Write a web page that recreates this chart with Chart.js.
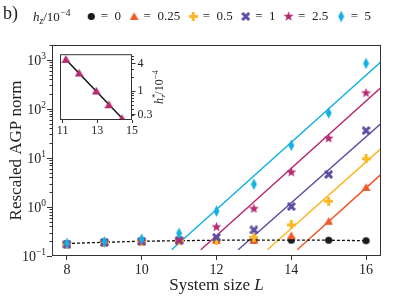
<!DOCTYPE html>
<html>
<head>
<meta charset="utf-8">
<script src="https://cdn.jsdelivr.net/npm/chart.js@4.4.0/dist/chart.umd.min.js"></script>
<style>
  html, body { margin: 0; padding: 0; background: #fff; }
  #wrap { position: relative; width: 399px; height: 299px; }
  #main { position: absolute; left: 0; top: 0; }
  #inset { position: absolute; left: 50px; top: 45px; }
</style>
</head>
<body>
<div id="wrap">
  <canvas id="main" width="399" height="299"></canvas>
  <canvas id="inset" width="115" height="95"></canvas>
</div>
<script>
// data
const sizes = [8, 9, 10, 11, 12, 13, 14, 15, 16];
const hzValues = ['0', '0.25', '0.5', '1', '2.5', '5'];
const normH0   = [0.18, 0.19, 0.20, 0.205, 0.21, 0.21, 0.21, 0.21, 0.205];
const normH025 = [0.175, 0.19, 0.20, 0.205, 0.21, 0.21, 0.26, 0.51, 2.5];
const normH05  = [0.175, 0.19, 0.20, 0.205, 0.21, 0.24, 0.43, 1.31, 9.6];
const normH1   = [0.175, 0.19, 0.20, 0.21, 0.24, 0.34, 1.02, 4.6, 36];
const normH25  = [0.175, 0.19, 0.20, 0.21, 0.39, 0.92, 5.1, 25, 210];
const normH5   = [0.18, 0.195, 0.22, 0.29, 0.82, 2.9, 18, 82, 840];

// fitted growth lines for h_z > 0 (start / end points)
const fitFromL = [14.16, 13.36, 12.58, 11.58, 10.80];
const fitFromY = [0.134, 0.134, 0.134, 0.134, 0.134];
const fitToL   = [16.4, 16.4, 16.4, 16.4, 16.4];
const fitToY   = [4.6, 15.4, 50, 272, 910];

// inset: crossover size L* against h_z*
const crossL = [11.19, 11.95, 12.94, 13.67, 14.42];
const crossH = [5, 2.5, 1, 0.5, 0.25];
const crossFitL = [11.12, 14.55];
const crossFitH = [5.3, 0.225];

const xTicks = [8, 10, 12, 14, 16];
const yPowers = [-1, 0, 1, 2, 3];
const insetXTicks = [11, 13, 15];
const insetYTicks = [0.3, 1, 4];

const FAM = '"Liberation Serif", "DejaVu Serif", serif';
const INK = '#222';
const colors = ['#1a1a1a', '#f05a28', '#fdb827', '#5b4ea1', '#b72a71', '#15b0e2'];
const shapes = ['circle', 'triangle', 'plus', 'x', 'star', 'diamond'];

function marker(shape, color) {
  const w = shape === 'diamond' ? 7 : (shape === 'star' ? 11 : 9);
  const h = shape === 'diamond' ? 12 : w;
  const c = document.createElement('canvas');
  c.width = w; c.height = h;
  const g = c.getContext('2d');
  const m = w / 2;
  g.fillStyle = color;
  g.translate(w / 2, h / 2);
  g.beginPath();
  if (shape === 'circle') {
    g.arc(0, 0, 3.6, 0, Math.PI * 2);
  } else if (shape === 'triangle') {
    g.moveTo(0, -4.3); g.lineTo(4.4, 3.6); g.lineTo(-4.4, 3.6); g.closePath();
  } else if (shape === 'plus' || shape === 'x') {
    if (shape === 'x') g.rotate(Math.PI / 4);
    const t = 1.5, r = shape === 'x' ? 5 : 4.4;
    g.rect(-t, -r, 2 * t, 2 * r);
    g.rect(-r, -t, 2 * r, 2 * t);
  } else if (shape === 'star') {
    for (let k = 0; k < 10; k++) {
      const rr = k % 2 ? 2.2 : 5.3;
      const a = -Math.PI / 2 + k * Math.PI / 5;
      g.lineTo(rr * Math.cos(a), rr * Math.sin(a));
    }
    g.closePath();
  } else {
    g.moveTo(0, -h / 2 + 0.3); g.lineTo(m - 0.5, 0); g.lineTo(0, h / 2 - 0.3); g.lineTo(-m + 0.5, 0); g.closePath();
  }
  g.fill();
  return c;
}

// text with a raised / lowered small part
function drawRich(ctx, parts, x, y) {
  let cx = x;
  parts.forEach(p => {
    ctx.font = (p.italic ? 'italic ' : '') + p.size + 'px ' + FAM;
    ctx.fillText(p.t, cx, y + (p.dy || 0));
    if (!p.stack) cx += ctx.measureText(p.t).width + (p.gap || 0);
  });
  return cx - x;
}
function richWidth(ctx, parts) {
  let w = 0;
  parts.forEach(p => {
    ctx.font = (p.italic ? 'italic ' : '') + p.size + 'px ' + FAM;
    if (!p.stack) w += ctx.measureText(p.t).width + (p.gap || 0);
  });
  return w;
}

const series = [normH0, normH025, normH05, normH1, normH25, normH5];
const datasets = series.map((vals, i) => ({
  label: '=\u2002' + hzValues[i],
  data: vals.map((v, j) => ({ x: sizes[j], y: v })),
  pointStyle: marker(shapes[i], colors[i]),
  pointRadius: 4,
  showLine: i === 0,
  borderColor: '#111',
  borderWidth: 1.3,
  borderDash: [3, 2],
  order: 5 - i
}));
fitFromL.forEach((l, k) => {
  datasets.push({
    label: 'fit',
    data: [{ x: l, y: fitFromY[k] }, { x: fitToL[k], y: fitToY[k] }],
    showLine: true,
    pointRadius: 0,
    borderColor: colors[k + 1],
    borderWidth: 1.5,
    order: 10
  });
});

const mainDecor = {
  id: 'mainDecor',
  beforeLayout(chart) {
    const lg = chart.legend;
    if (lg && !lg.$padded) {
      const fit = lg.fit;
      lg.fit = function () { fit.call(this); this.height += 12; };
      lg.$padded = true;
    }
  },
  afterDraw(chart) {
    const { ctx, chartArea: a, scales: { y } } = chart;
    ctx.save();
    ctx.strokeStyle = '#333';
    ctx.lineWidth = 1;
    ctx.strokeRect(a.left + 0.5, a.top + 0.5, a.right - a.left - 1, a.bottom - a.top - 1);
    // log ticks on the y axis
    for (let p = -1; p <= 3; p++) {
      for (let m = 1; m < 10; m++) {
        const v = m * Math.pow(10, p);
        if (v > y.max) break;
        const py = Math.round(y.getPixelForValue(v)) + 0.5;
        const len = m === 1 ? 5 : 2.5;
        ctx.beginPath(); ctx.moveTo(a.left - len, py); ctx.lineTo(a.left, py); ctx.stroke();
      }
    }
    ctx.fillStyle = INK;
    ctx.textBaseline = 'alphabetic';
    ctx.textAlign = 'left';
    yPowers.forEach(p => {
      const exp = p < 0 ? '\u2212' + (-p) : String(p);
      const parts = [{ t: '10', size: 14 }, { t: exp, size: 9.5, dy: -6 }];
      const w = richWidth(ctx, parts);
      drawRich(ctx, parts, a.left - 6 - w, y.getPixelForValue(Math.pow(10, p)) + 5);
    });
    // axis titles
    const xt = [{ t: 'System size ', size: 17 }, { t: 'L', size: 17, italic: true }];
    drawRich(ctx, xt, (a.left + a.right) / 2 - richWidth(ctx, xt) / 2, 290);
    ctx.save();
    ctx.translate(21, (a.top + a.bottom) / 2);
    ctx.rotate(-Math.PI / 2);
    ctx.font = '17px ' + FAM;
    ctx.textAlign = 'center';
    ctx.fillText('Rescaled AGP norm', 0, 0);
    ctx.restore();
    // panel tag and legend title
    ctx.font = '18px ' + FAM;
    ctx.fillText('b)', 3, 19);
    drawRich(ctx, [
      { t: 'h', size: 13, italic: true },
      { t: 'z', size: 9.5, italic: true, dy: 3 },
      { t: '/10', size: 13, gap: 0.5 },
      { t: '\u22124', size: 9.5, dy: -5.5 }
    ], 33, 21);
    ctx.restore();
  }
};

const mainChart = new Chart(document.getElementById('main'), {
  type: 'scatter',
  data: { datasets },
  options: {
    responsive: false,
    animation: false,
    events: [],
    layout: { padding: { left: 0, right: 18, top: 0, bottom: 0 } },
    scales: {
      x: {
        type: 'linear', min: 7.6, max: 16.4,
        afterBuildTicks: s => { s.ticks = xTicks.map(v => ({ value: v })); },
        afterFit: s => { s.height = 43; },
        grid: { drawOnChartArea: false, tickLength: 4, color: '#333' },
        border: { display: false },
        ticks: { font: { family: FAM, size: 14 }, color: INK, padding: 2, maxRotation: 0 }
      },
      y: {
        type: 'logarithmic', min: 0.1, max: 2000,
        afterFit: s => { s.width = 52; },
        grid: { display: false },
        border: { display: false },
        ticks: { display: false }
      }
    },
    plugins: {
      tooltip: { enabled: false },
      legend: {
        position: 'top',
        align: 'end',
        labels: {
          usePointStyle: true,
          pointStyleWidth: 6,
          padding: 10,
          color: INK,
          font: { family: FAM, size: 13 },
          filter: item => item.datasetIndex < 6,
          sort: (p, q) => p.datasetIndex - q.datasetIndex
        }
      }
    }
  },
  plugins: [mainDecor]
});

const insetDecor = {
  id: 'insetDecor',
  afterDraw(chart) {
    const { ctx, chartArea: a, scales: { y } } = chart;
    ctx.save();
    ctx.strokeStyle = '#333';
    ctx.lineWidth = 1;
    ctx.strokeRect(a.left + 0.5, a.top + 0.5, a.right - a.left - 1, a.bottom - a.top - 1);
    [0.3, 0.4, 0.5, 0.6, 0.7, 0.8, 0.9, 2, 3, 5, 6].forEach(v => {
      const py = Math.round(y.getPixelForValue(v)) + 0.5;
      ctx.beginPath(); ctx.moveTo(a.right, py); ctx.lineTo(a.right + 2, py); ctx.stroke();
    });
    ctx.fillStyle = INK;
    ctx.translate(a.right + 27, (a.top + a.bottom) / 2);
    ctx.rotate(-Math.PI / 2);
    const parts = [
      { t: 'h', size: 12, italic: true },
      { t: '*', size: 8.5, dy: -5, stack: true },
      { t: 'z', size: 8.5, italic: true, dy: 2.5 },
      { t: '/10', size: 12 },
      { t: '\u22124', size: 8.5, dy: -5 }
    ];
    drawRich(ctx, parts, -richWidth(ctx, parts) / 2, 4);
    ctx.restore();
  }
};

new Chart(document.getElementById('inset'), {
  type: 'scatter',
  data: {
    datasets: [
      {
        data: crossL.map((l, i) => ({ x: l, y: crossH[i] })),
        pointStyle: marker('triangle', colors[4]),
        pointRadius: 4,
        order: 0
      },
      {
        data: crossFitL.map((l, i) => ({ x: l, y: crossFitH[i] })),
        showLine: true,
        pointRadius: 0,
        borderColor: '#111',
        borderWidth: 1.5,
        order: 1
      }
    ]
  },
  options: {
    responsive: false,
    animation: false,
    events: [],
    layout: { padding: { left: 10, top: 7, right: 0, bottom: 0 } },
    plugins: { legend: { display: false }, tooltip: { enabled: false } },
    scales: {
      x: {
        type: 'linear', min: 10.85, max: 15,
        afterBuildTicks: s => { s.ticks = insetXTicks.map(v => ({ value: v })); },
        afterFit: s => { s.height = 20; },
        grid: { drawOnChartArea: false, tickLength: 3, color: '#333' },
        border: { display: false },
        ticks: { font: { family: FAM, size: 12 }, color: INK, padding: 1, maxRotation: 0 }
      },
      y: {
        type: 'logarithmic', position: 'right', min: 0.23, max: 6.5,
        afterBuildTicks: s => { s.ticks = insetYTicks.map(v => ({ value: v })); },
        afterFit: s => { s.width = 33; },
        grid: { drawOnChartArea: false, tickLength: 3.5, color: '#333' },
        border: { display: false },
        ticks: { callback: v => String(v), font: { family: FAM, size: 12 }, color: INK, padding: 2 }
      }
    }
  },
  plugins: [insetDecor]
});
</script>
</body>
</html>
